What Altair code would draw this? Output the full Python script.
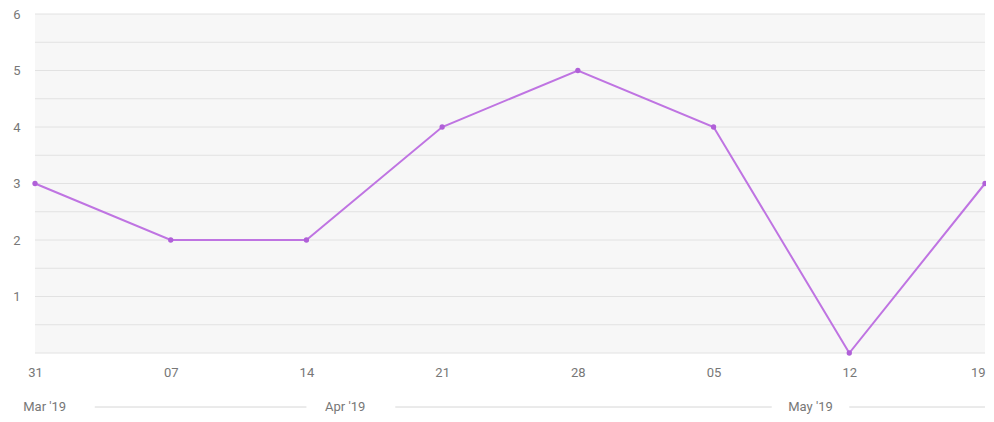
import altair as alt
import pandas as pd

dates = ["2019-03-31", "2019-04-07", "2019-04-14", "2019-04-21",
         "2019-04-28", "2019-05-05", "2019-05-12", "2019-05-19"]
values = [3, 2, 2, 4, 5, 4, 0, 3]

month_labels = ["Mar '19", "Apr '19", "May '19"]
month_centers = ["2019-03-31T12:00:00", "2019-04-16T00:00:00", "2019-05-10T00:00:00"]
rule_starts = ["2019-04-03T02:00:00", "2019-04-18T14:00:00", "2019-05-12T00:00:00"]
rule_ends = ["2019-04-14T00:00:00", "2019-05-08T00:00:00", "2019-05-19T00:00:00"]

y_labels = [1, 2, 3, 4, 5, 6]
y_grid = [i * 0.5 for i in range(13)]

df = pd.DataFrame({"date": dates, "value": values})
months = pd.DataFrame({"label": month_labels, "date": month_centers})
rules = pd.DataFrame({"start": rule_starts, "end": rule_ends})
grid = pd.DataFrame({"g": y_grid})

tick_ms = [int(pd.Timestamp(d, tz="UTC").timestamp() * 1000) for d in dates]

FONT = "Roboto"
LINE = "#bf74e2"
TXT = "#777777"

xscale = alt.Scale(type="utc", domain=[tick_ms[0], tick_ms[-1]], nice=False)
yscale = alt.Scale(domain=[0, 6], nice=False)

grid_rules = alt.Chart(grid).mark_rule(color="#e2e2e2", strokeWidth=1).encode(
    y=alt.Y("g:Q", scale=yscale, title=None,
            axis=alt.Axis(values=y_labels, ticks=False, domain=False, grid=False,
                          format="d", labelPadding=15, labelFontSize=13,
                          labelColor=TXT, labelFont=FONT)),
)

base = alt.Chart(df)

last_label_align = {"condition": {"test": f"datum.value >= {tick_ms[-1]}", "value": "right"},
                    "value": "center"}

line = base.mark_line(color=LINE, strokeWidth=2).encode(
    x=alt.X("date:T", scale=xscale, title=None,
            axis=alt.Axis(values=tick_ms, labelExpr="utcFormat(datum.value, '%d')",
                          ticks=False, domain=False, grid=False, labelPadding=13,
                          labelFontSize=13, labelColor=TXT, labelFont=FONT,
                          labelFlush=False, labelAlign=last_label_align)),
    y=alt.Y("value:Q", scale=yscale),
)

points = base.mark_circle(color="#b060d8", size=28, opacity=1).encode(
    x=alt.X("date:T", scale=xscale),
    y=alt.Y("value:Q", scale=yscale),
)

month_text = alt.Chart(months).mark_text(
    font=FONT, fontSize=13, color=TXT, baseline="middle", align="center"
).encode(
    x=alt.X("date:T", scale=xscale),
    y=alt.value(393),
    text="label:N",
)

month_rules = alt.Chart(rules).mark_rule(color="#d6d6d6", strokeWidth=1).encode(
    x=alt.X("start:T", scale=xscale),
    x2="end:T",
    y=alt.value(393),
)

chart = alt.layer(grid_rules, line, points, month_rules, month_text).properties(
    width=950, height=339,
    autosize=alt.AutoSizeParams(type="none"),
    padding={"left": 27, "top": 6, "right": 1, "bottom": 61},
    background="#ffffff",
).configure_view(
    fill="#f7f7f7", stroke=None
)

chart.save("out.html", embed_options={"renderer": "svg", "actions": False})
